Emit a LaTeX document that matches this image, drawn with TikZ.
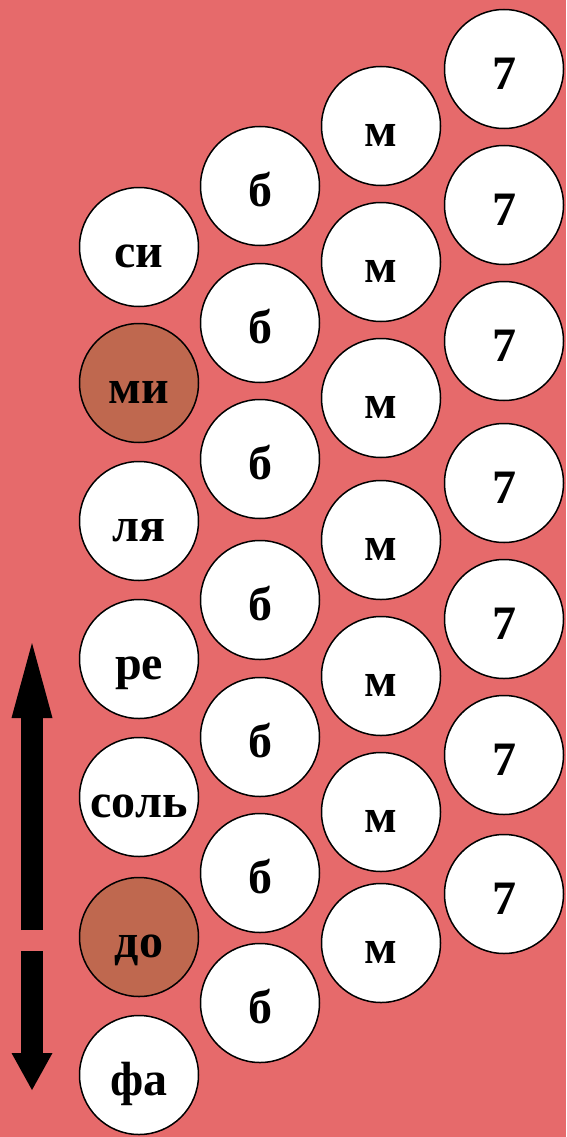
\documentclass[tikz,border=0pt]{standalone}
\usepackage{fontspec}
\setmainfont{Liberation Serif}
\usetikzlibrary{arrows.meta}
\definecolor{bgred}{RGB}{230,106,107}
\definecolor{keybrown}{RGB}{191,104,79}
\begin{document}
\begin{tikzpicture}[x=1pt,y=-1pt,every node/.style={font=\fontsize{48}{48}\selectfont\bfseries},
	button/.style={circle, draw=black, line width=1.5pt, fill=white, minimum size=119pt, inner sep=0pt, text height=41pt, text depth=0pt}]
	\fill[bgred] (0,0) rectangle (566,1137);
	\useasboundingbox (0,0) rectangle (566,1137);
	\foreach \lbl/\y/\f [count=\i] in {си/247/white,ми/383/keybrown,ля/521/white,ре/659/white,соль/797/white,до/937/keybrown,фа/1075/white} {\node[button, fill=\f] (bass-\i) at (139,\y) {\lbl};}
	\foreach \y [count=\i] in {186,323,459,600,737,873,1003} {\node[button] (maj-\i) at (260,\y) {б};}
	\foreach \y [count=\i] in {126,262,398,540,676,812,943} {\node[button] (min-\i) at (381,\y) {м};}
	\foreach \y [count=\i] in {69,205,341,483,619,755,894} {\node[button] (sept-\i) at (504,\y) {7};}
	\coordinate (up-start) at (32,930);
	\coordinate (up-end) at (32,643);
	\coordinate (down-start) at (32,951);
	\coordinate (down-end) at (32,1090);
	\draw[line width=22pt, -{Triangle[width=41pt,length=75pt,line width=0pt]}] (up-start) -- (up-end);
	\draw[line width=22pt, -{Triangle[width=41pt,length=37pt,line width=0pt]}] (down-start) -- (down-end);
\end{tikzpicture}
\end{document}
